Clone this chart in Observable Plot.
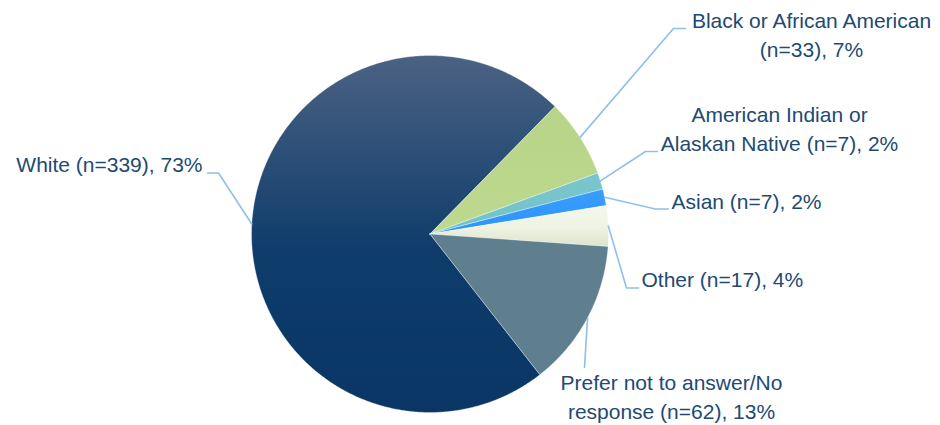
<!DOCTYPE html>
<html><head><meta charset="utf-8">
<script src="https://cdn.jsdelivr.net/npm/d3@7"></script>
<script src="https://cdn.jsdelivr.net/npm/@observablehq/plot@0.6"></script>
<style>body{margin:0;background:#fff;overflow:hidden}</style>
</head><body><div id="chart"></div>
<script>
// ---- data ----
const categories = ["White", "Black or African American", "American Indian or Alaskan Native", "Asian", "Other", "Prefer not to answer/No response"];
const counts = [339, 33, 7, 7, 17, 62];
const percents = ["73%", "7%", "2%", "2%", "4%", "13%"];
const labelTexts = [
  "White (n=339), 73%",
  "Black or African American\n(n=33), 7%",
  "American Indian or\nAlaskan Native (n=7), 2%",
  "Asian (n=7), 2%",
  "Other (n=17), 4%",
  "Prefer not to answer/No\nresponse (n=62), 13%"
];

// ---- styles / layout ----
const sliceStops = [
  [["0%", "#4b6283"], ["55%", "#0e3c6b"], ["100%", "#093664"]],
  [["0%", "#b7d488"], ["100%", "#bdd98f"]],
  [["0%", "#79c6cc"], ["100%", "#74c2c8"]],
  [["0%", "#3a9dff"], ["100%", "#2b94fb"]],
  [["0%", "#f4f8ec"], ["55%", "#eef3e2"], ["100%", "#dde3cb"]],
  [["0%", "#5f7f8e"], ["100%", "#5f7f8e"]]
];
const W = 940, H = 425, cx = 429.5, cy = 233.5, R = 178.5;
const startDeg = 142; // first slice start, clockwise from 12 o'clock
// label layout: anchor, x, y (middle of text block), leader path after the rim point
const labelLayout = [
  {anchor: "end",    x: 202, y: 162.5, path: [[218, 172.5], [207, 172.5]]},
  {anchor: "middle", x: 811, y: 32.3,  path: [[673, 28], [685, 28]]},
  {anchor: "middle", x: 779, y: 126.5, path: [[645, 151], [657, 151]]},
  {anchor: "start",  x: 671, y: 199.3, path: [[655, 208.5], [668, 208.5]]},
  {anchor: "start",  x: 641, y: 277.6, path: [[626, 287.5], [638, 287.5]]},
  {anchor: "middle", x: 671, y: 395,   path: [[584, 367]]}
];

const total = d3.sum(counts);
let acc = startDeg;
const slices = counts.map((c, i) => {
  const a0 = acc, a1 = acc + c / total * 360;
  acc = a1;
  return {i, a0, a1, mid: (a0 + a1) / 2};
});
function pt(deg, r) {
  const t = deg * Math.PI / 180;
  return {x: cx + r * Math.sin(t), y: cy - r * Math.cos(t)};
}
const polys = slices.map(s => {
  const pts = [{x: cx, y: cy}];
  const n = Math.max(2, Math.ceil((s.a1 - s.a0) / 0.4));
  for (let k = 0; k <= n; k++) pts.push(pt(s.a0 + (s.a1 - s.a0) * k / n, R));
  pts.push({x: cx, y: cy});
  return pts;
});
const leaders = [];
slices.forEach((s, i) => {
  const p0 = pt(s.mid, R);
  leaders.push({k: i, x: p0.x, y: p0.y});
  labelLayout[i].path.forEach(([x, y]) => leaders.push({k: i, x, y}));
});
const labels = labelTexts.map((t, i) => ({text: t, ...labelLayout[i]}));

const textColor = "#214a73";
const font = "Liberation Sans, Arial, sans-serif";
const textMark = anchor => Plot.text(labels.filter(d => d.anchor === anchor), {
  x: "x", y: "y", text: "text", textAnchor: anchor, lineAnchor: "middle",
  fill: textColor, fontSize: 21, lineHeight: 1.38
});

const svg = Plot.plot({
  width: W, height: H,
  margin: 0,
  x: {domain: [0, W], range: [0, W], axis: null},
  y: {domain: [0, H], range: [0, H], axis: null},
  style: {fontFamily: font, background: "#fff", overflow: "visible"},
  marks: [
    ...polys.map((p, i) => Plot.line(p, {x: "x", y: "y", fill: `url(#g${i})`, stroke: "#ffffff", strokeWidth: 0.5, strokeOpacity: 0.7, curve: "linear"})),
    Plot.line(leaders, {x: "x", y: "y", z: "k", stroke: "#8fbfea", strokeWidth: 1.6, curve: "linear"}),
    textMark("start"), textMark("middle"), textMark("end")
  ]
});
const defs = d3.select(svg).insert("defs", ":first-child");
sliceStops.forEach((stops, i) => {
  const g = defs.append("linearGradient").attr("id", `g${i}`).attr("x1", 0).attr("y1", 0).attr("x2", 0).attr("y2", 1);
  stops.forEach(([o, c]) => g.append("stop").attr("offset", o).attr("stop-color", c));
});
document.getElementById("chart").appendChild(svg);
</script>
</body></html>
